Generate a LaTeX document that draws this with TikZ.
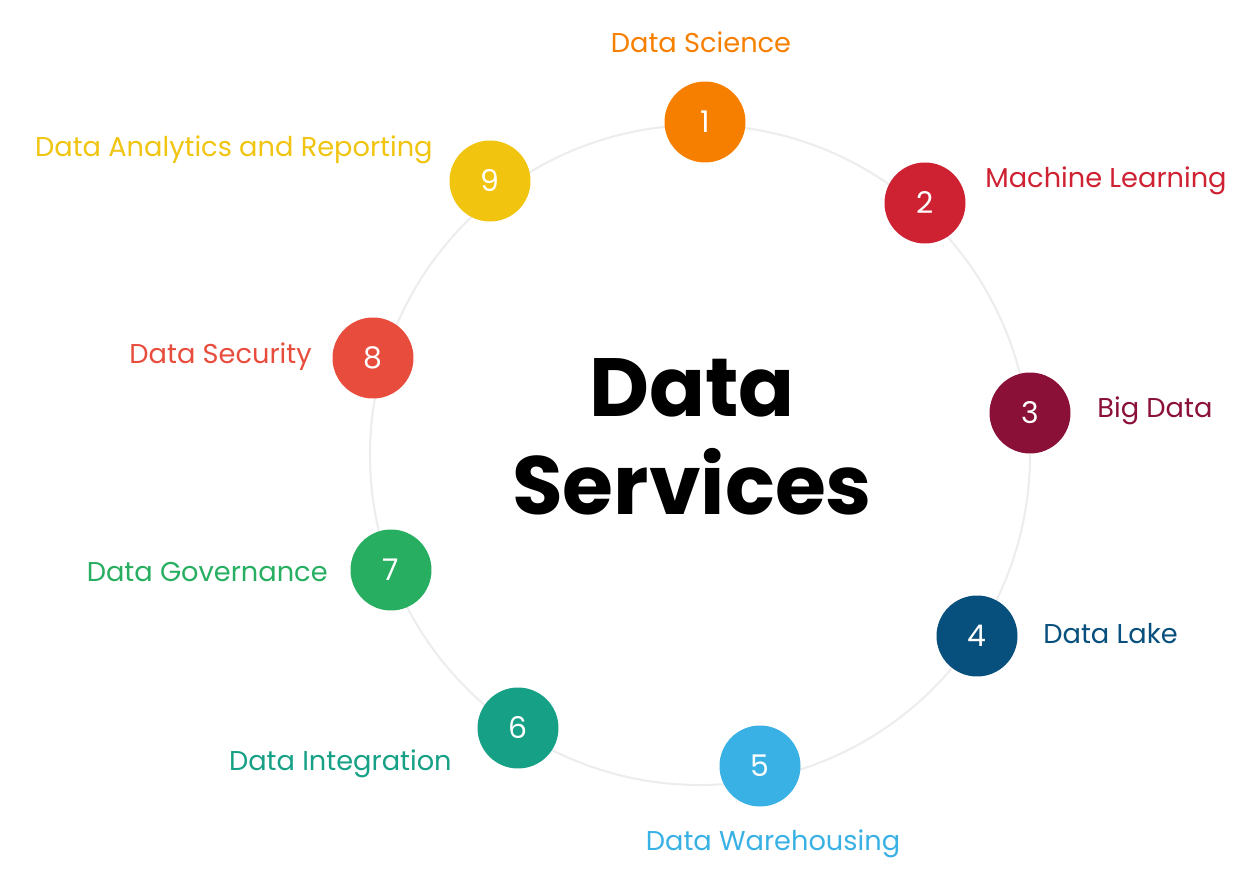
\documentclass[tikz,border=0pt]{standalone}
\usepackage{fontspec}
\setmainfont{Poppins}
\definecolor{cOne}{HTML}{F77F00}
\definecolor{cTwo}{HTML}{CE2132}
\definecolor{cThree}{HTML}{8A1038}
\definecolor{cFour}{HTML}{074F7C}
\definecolor{cFive}{HTML}{39B1E4}
\definecolor{cSix}{HTML}{16A085}
\definecolor{cSeven}{HTML}{27AE60}
\definecolor{cEight}{HTML}{E74C3C}
\definecolor{cNine}{HTML}{F1C40F}
\tikzset{
  num/.style={circle, fill=#1, minimum size=1.62cm, inner sep=0pt, text=white, font=\fontsize{17}{17}\selectfont},
  lbl/.style={text=#1, inner sep=0pt, font=\fontsize{15.5}{18}\selectfont}
}
\begin{document}
\begin{tikzpicture}[x=0.02cm, y=-0.02cm]
\useasboundingbox (0,0) rectangle (1254,888);
\draw[black!7, line width=1.2pt] (700,455) circle (330);
\node[num=cOne] (n1) at (705,122) {1};
\node[num=cTwo] (n2) at (925,203) {2};
\node[num=cThree] (n3) at (1030,413) {3};
\node[num=cFour] (n4) at (977,636) {4};
\node[num=cFive] (n5) at (760,766) {5};
\node[num=cSix] (n6) at (518,728) {6};
\node[num=cSeven] (n7) at (391,570) {7};
\node[num=cEight] (n8) at (373,358) {8};
\node[num=cNine] (n9) at (490,181) {9};
\node[lbl=cOne] (l1) at (701,42) {Data Science};
\node[lbl=cTwo, anchor=west] (l2) at (985,181) {Machine Learning};
\node[lbl=cThree, anchor=west] (l3) at (1097,411) {Big Data};
\node[lbl=cFour, anchor=west] (l4) at (1043,634) {Data Lake};
\node[lbl=cFive] (l5) at (773,844) {Data Warehousing};
\node[lbl=cSix, anchor=east] (l6) at (452,764) {Data Integration};
\node[lbl=cSeven, anchor=east] (l7) at (328,572) {Data Governance};
\node[lbl=cEight, anchor=east] (l8) at (312,357) {Data Security};
\node[lbl=cNine, anchor=east] (l9) at (433,150) {Data Analytics and Reporting};
\node[align=center, font=\fontsize{47}{56}\selectfont\bfseries] (title) at (692,437) {Data\\Services};
\end{tikzpicture}
\end{document}
